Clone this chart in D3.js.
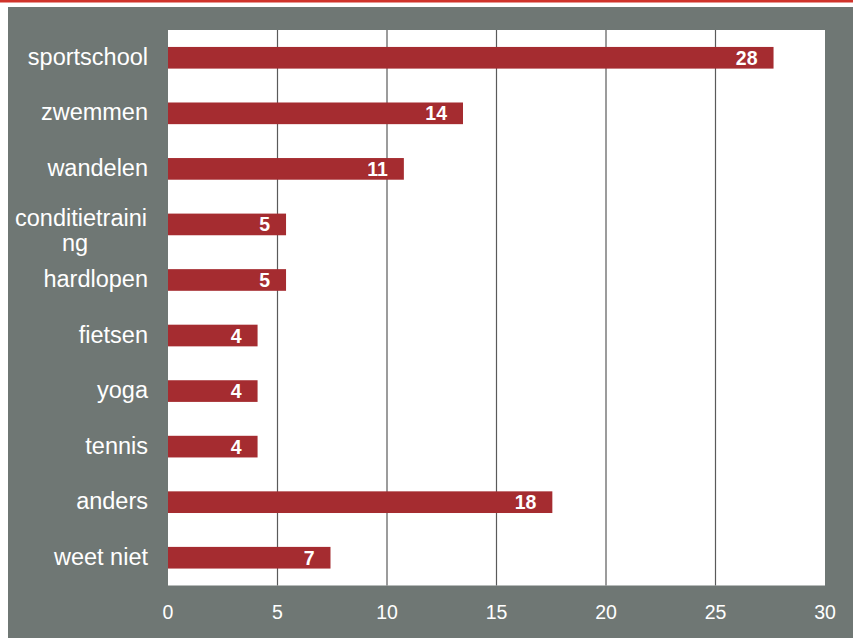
<!DOCTYPE html>
<html>
<head>
<meta charset="utf-8">
<script src="https://cdn.jsdelivr.net/npm/d3@7"></script>
<style>
body { margin: 0; background: #fff; }
svg { display: block; }
text { font-family: "Liberation Sans", Arial, sans-serif; }
</style>
</head>
<body>
<div id="chart"></div>
<script>
var categories = ["sportschool", "zwemmen", "wandelen", "conditietraining", "hardlopen", "fietsen", "yoga", "tennis", "anders", "weet niet"];
var values = [27.65, 13.47, 10.77, 5.39, 5.39, 4.09, 4.09, 4.09, 17.55, 7.42];
var valueLabels = ["28", "14", "11", "5", "5", "4", "4", "4", "18", "7"];
var categoryLines = [["sportschool"], ["zwemmen"], ["wandelen"], ["conditietraini", "ng"], ["hardlopen"], ["fietsen"], ["yoga"], ["tennis"], ["anders"], ["weet niet"]];
var xTicks = [0, 5, 10, 15, 20, 25, 30];

var width = 853, height = 638;
var plot = {left: 168, right: 825, top: 30, bottom: 585.5};

var svg = d3.select("#chart").append("svg")
	.attr("width", width)
	.attr("height", height)

// top red rule and grey panel
svg.append("rect")
	.attr("x", 0).attr("y", 0)
	.attr("width", width).attr("height", 2.5)
	.attr("fill", "#d0332b")

svg.append("rect")
	.attr("x", 8).attr("y", 7)
	.attr("width", width - 8).attr("height", height - 7)
	.attr("fill", "#6f7774")

var x = d3.scaleLinear()
	.domain([0, 30])
	.range([plot.left, plot.right])

var y = d3.scaleBand()
	.domain(categories)
	.range([plot.top, plot.bottom])
	.paddingInner(0.61)
	.paddingOuter(0.305)

// white plot area
svg.append("rect")
	.attr("x", plot.left).attr("y", plot.top)
	.attr("width", plot.right - plot.left)
	.attr("height", plot.bottom - plot.top)
	.attr("fill", "#ffffff")

// gridlines
svg.selectAll(".grid")
	.data(xTicks.slice(1, -1))
	.enter().append("line")
	.attr("x1", function(d){ return x(d) })
	.attr("x2", function(d){ return x(d) })
	.attr("y1", plot.top)
	.attr("y2", plot.bottom)
	.attr("stroke", "#5a5a5a")
	.attr("stroke-width", 1.2)

// bars
svg.selectAll(".bar")
	.data(categories)
	.enter().append("rect")
	.attr("x", x(0))
	.attr("y", function(d){ return y(d) })
	.attr("width", function(d, i){ return x(values[i]) - x(0) })
	.attr("height", y.bandwidth())
	.attr("fill", "#a52c30")

// value labels
svg.selectAll(".val")
	.data(categories)
	.enter().append("text")
	.attr("x", function(d, i){ return x(values[i]) - 16 })
	.attr("y", function(d){ return y(d) + y.bandwidth() / 2 })
	.attr("dy", "0.36em")
	.attr("text-anchor", "end")
	.attr("fill", "#ffffff")
	.attr("font-weight", "bold")
	.attr("font-size", "19.5px")
	.text(function(d, i){ return valueLabels[i] })

// category labels
var cat = svg.selectAll(".cat")
	.data(categories)
	.enter().append("text")
	.attr("fill", "#ffffff")
	.attr("font-size", "23.5px")
	.attr("y", function(d){ return y(d) + y.bandwidth() / 2 })

cat.each(function(d, i){
	var lines = categoryLines[i]
	var t = d3.select(this)
	if(lines.length == 1){
		t.attr("x", 148).attr("text-anchor", "end").attr("dy", "0.3em").text(lines[0])
	}else{
		t.attr("text-anchor", "middle")
		lines.forEach(function(line, j){
			t.append("tspan")
				.attr("x", j == 0 ? 81 : 75)
				.attr("dy", j == 0 ? "0.05em" : "1.07em")
				.text(line)
		})
	}
})

// x axis tick labels
svg.selectAll(".tick")
	.data(xTicks)
	.enter().append("text")
	.attr("x", function(d){ return x(d) })
	.attr("y", 619)
	.attr("text-anchor", "middle")
	.attr("fill", "#ffffff")
	.attr("font-size", "19.5px")
	.text(function(d){ return d })
</script>
</body>
</html>
